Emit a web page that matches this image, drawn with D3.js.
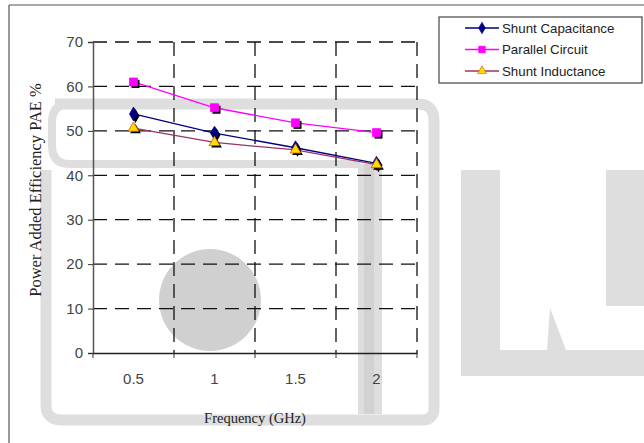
<!DOCTYPE html>
<html>
<head>
<meta charset="utf-8">
<script src="https://cdn.jsdelivr.net/npm/d3@7"></script>
<style>
  body { margin: 0; background: #fff; }
  svg { display: block; }
</style>
</head>
<body>
<div id="chart"></div>
<script>
// data
const frequencies = ["0.5", "1", "1.5", "2"];
const shuntCapacitance = [53.8, 49.5, 46.2, 42.7];
const parallelCircuit = [61.0, 55.2, 51.8, 49.6];
const shuntInductance = [50.6, 47.4, 45.7, 42.4];
const yTicks = [0, 10, 20, 30, 40, 50, 60, 70];

const seriesNames = ["Shunt Capacitance", "Parallel Circuit", "Shunt Inductance"];

const width = 644, height = 443;
const margin = { left: 93, top: 42, right: 227, bottom: 90 };

const svg = d3.select("#chart").append("svg")
    .attr("width", width)
    .attr("height", height);

// --- watermark behind the chart (faint logo) ---
const wm = svg.append("g").attr("class", "watermark");
const wmGray = "#dedede";
wm.append("path")
    .attr("d", "M55,104 L418,104 Q434,104 434,121 L434,408 Q434,420 422,420 L62,420 Q46,420 46,405 L46,170")
    .attr("fill", "none").attr("stroke", wmGray).attr("stroke-width", 11);
wm.append("path")
    .attr("d", "M420,104 L70,104 Q52,104 52,122 L52,146 Q52,164 70,164 L360,164")
    .attr("fill", "none").attr("stroke", wmGray).attr("stroke-width", 8);
wm.append("rect").attr("x", 358).attr("y", 164).attr("width", 24).attr("height", 250).attr("fill", wmGray);
wm.append("rect").attr("x", 364).attr("y", 164).attr("width", 10).attr("height", 250).attr("fill", "#d2d2d2");
wm.append("circle").attr("cx", 210).attr("cy", 300).attr("r", 51).attr("fill", "#d0d0d0");
wm.append("rect").attr("x", 461).attr("y", 170).attr("width", 39).attr("height", 185).attr("fill", wmGray);
wm.append("rect").attr("x", 606).attr("y", 170).attr("width", 38).attr("height", 136).attr("fill", wmGray);
wm.append("rect").attr("x", 461).attr("y", 350).attr("width", 183).attr("height", 26).attr("fill", wmGray);
wm.append("path").attr("d", "M547,350 L550,308 L566,350 Z").attr("fill", wmGray);

// outer frame lines
svg.append("line").attr("x1", 9).attr("x2", 644).attr("y1", 5).attr("y2", 5)
    .attr("stroke", "#555").attr("stroke-width", 1.2);
svg.append("line").attr("x1", 9).attr("x2", 9).attr("y1", 5).attr("y2", 443)
    .attr("stroke", "#555").attr("stroke-width", 1.2);

const x = d3.scaleBand()
    .domain(frequencies)
    .range([margin.left, width - margin.right])
    .paddingInner(0).paddingOuter(0);

const y = d3.scaleLinear()
    .domain([0, 70])
    .range([height - margin.bottom, margin.top]);

const grid = svg.append("g").attr("class", "grid");

// horizontal dashed gridlines
grid.selectAll(".hgrid")
    .data(yTicks.filter(d => d > 0))
    .enter().append("line")
    .attr("x1", x.range()[0]).attr("x2", x.range()[1])
    .attr("y1", d => y(d)).attr("y2", d => y(d))
    .attr("stroke", "#111").attr("stroke-width", 1.3)
    .attr("stroke-dasharray", "14,8");

// vertical dashed gridlines at category boundaries
const bounds = frequencies.slice(1).map(f => x(f)).concat([x.range()[1]]);
grid.selectAll(".vgrid")
    .data(bounds)
    .enter().append("line")
    .attr("x1", d => d).attr("x2", d => d)
    .attr("y1", y(70)).attr("y2", y(0))
    .attr("stroke", "#111").attr("stroke-width", 1.3)
    .attr("stroke-dasharray", "14,8");

// axes
const yAxis = svg.append("g")
    .attr("transform", `translate(${margin.left},0)`)
    .call(d3.axisLeft(y).tickValues(yTicks).tickSize(5).tickPadding(5));
yAxis.select(".domain").attr("stroke", "#555").attr("stroke-width", 1.5);
yAxis.selectAll(".tick line").attr("stroke", "#333");
yAxis.selectAll("text")
    .attr("font-family", "Arial, 'Liberation Sans', sans-serif")
    .attr("font-size", 15).attr("fill", "#444");

const xAxis = svg.append("g")
    .attr("transform", `translate(0,${y(0)})`)
    .call(d3.axisBottom(x).tickSize(0).tickPadding(20));
xAxis.select(".domain").attr("stroke", "#222").attr("stroke-width", 1.5);
xAxis.selectAll("text")
    .attr("font-family", "Arial, 'Liberation Sans', sans-serif")
    .attr("font-size", 15).attr("fill", "#444");
// tick marks on x axis at category boundaries
xAxis.selectAll(".bt")
    .data([x.range()[0]].concat(bounds))
    .enter().append("line")
    .attr("x1", d => d).attr("x2", d => d)
    .attr("y1", 0).attr("y2", 5)
    .attr("stroke", "#333");

// axis titles
svg.append("text")
    .attr("transform", "translate(41,190) rotate(-90)")
    .attr("text-anchor", "middle")
    .attr("font-family", "'Liberation Serif', 'Times New Roman', serif")
    .attr("font-size", 16.5).attr("fill", "#222")
    .text("Power Added Efficiency PAE %");

svg.append("text")
    .attr("x", 255).attr("y", 423)
    .attr("text-anchor", "middle")
    .attr("font-family", "'Liberation Serif', 'Times New Roman', serif")
    .attr("font-size", 14.5).attr("fill", "#222")
    .text("Frequency (GHz)");

// series
const series = [
    { name: seriesNames[0], values: shuntCapacitance, color: "#000080", marker: "diamond", fill: "#000080", stroke: "#000080" },
    { name: seriesNames[1], values: parallelCircuit, color: "#ff00ff", marker: "square", fill: "#ff00ff", stroke: "#ff00ff" },
    { name: seriesNames[2], values: shuntInductance, color: "#993366", marker: "triangle", fill: "#ffdd00", stroke: "#cc5500" }
];

const symbolType = { diamond: d3.symbolDiamond, square: d3.symbolSquare, triangle: d3.symbolTriangle };
const symbolSize = { diamond: 55, square: 64, triangle: 50 };
const cx = f => x(f) + x.bandwidth() / 2;

const line = d3.line()
    .x((d, i) => cx(frequencies[i]))
    .y(d => y(d));

series.forEach(s => {
    const g = svg.append("g").attr("class", "series");
    g.append("path")
        .datum(s.values)
        .attr("d", line)
        .attr("fill", "none")
        .attr("stroke", s.color)
        .attr("stroke-width", 1.3);
    const sym = d3.symbol().type(symbolType[s.marker]).size(symbolSize[s.marker]);
    // black drop shadow under markers
    g.selectAll(".shadow")
        .data(s.values)
        .enter().append("path")
        .attr("d", sym)
        .attr("transform", (d, i) => `translate(${cx(frequencies[i]) + 2},${y(d) + 2})`)
        .attr("fill", "#000");
    g.selectAll(".pt")
        .data(s.values)
        .enter().append("path")
        .attr("d", sym)
        .attr("transform", (d, i) => `translate(${cx(frequencies[i])},${y(d)})`)
        .attr("fill", s.fill)
        .attr("stroke", s.stroke)
        .attr("stroke-width", 0.8);
});

// legend
const legend = svg.append("g").attr("class", "legend");
legend.append("rect")
    .attr("x", 439).attr("y", 17).attr("width", 203).attr("height", 66)
    .attr("fill", "#fff").attr("stroke", "#444").attr("stroke-width", 1.2);

const items = legend.selectAll(".legend-item")
    .data(series)
    .enter().append("g")
    .attr("class", "legend-item")
    .attr("transform", (d, i) => `translate(465,${28 + i * 21.5})`);

items.append("line")
    .attr("x1", 0).attr("x2", 34).attr("y1", 0).attr("y2", 0)
    .attr("stroke", d => d.color).attr("stroke-width", 1.3);
items.append("path")
    .attr("d", d => d3.symbol().type(symbolType[d.marker]).size(symbolSize[d.marker] * 0.7)())
    .attr("transform", "translate(17,0)")
    .attr("fill", d => d.fill)
    .attr("stroke", d => d.stroke)
    .attr("stroke-width", 0.6);
items.append("text")
    .attr("x", 37).attr("y", 0).attr("dy", "0.35em")
    .attr("font-family", "Arial, 'Liberation Sans', sans-serif")
    .attr("font-size", 13.3).attr("fill", "#222")
    .text(d => d.name);
</script>
</body>
</html>
